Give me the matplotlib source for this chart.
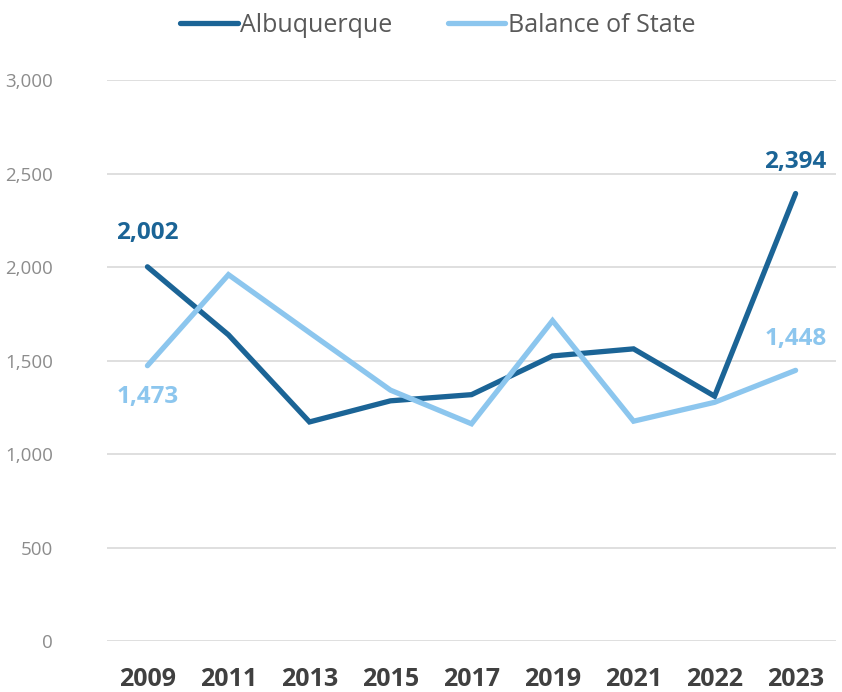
import numpy as np
import matplotlib
matplotlib.use("Agg")
import matplotlib.pyplot as plt

plt.rcParams['font.family'] = ['Open Sans', 'DejaVu Sans']

years = ['2009', '2011', '2013', '2015', '2017', '2019', '2021', '2022', '2023']
albuquerque = [2002, 1638, 1172, 1285, 1318, 1525, 1563, 1310, 2394]
balance_of_state = [1473, 1960, 1650, 1342, 1162, 1714, 1176, 1277, 1448]

dark_blue = '#1B6496'
light_blue = '#8CC6EE'

fig = plt.figure(figsize=(8.42, 6.92), dpi=100)
ax = fig.add_axes([0.127, 0.0737, 0.866, 0.8103])

x = np.arange(len(years))
ax.plot(x, albuquerque, color=dark_blue, linewidth=3.8, label='Albuquerque',
        solid_joinstyle='miter', solid_capstyle='round')
ax.plot(x, balance_of_state, color=light_blue, linewidth=3.8, label='Balance of State',
        solid_joinstyle='miter', solid_capstyle='round')

# end-point labels
lbl = dict(textcoords='offset points', ha='center', fontsize=17.5, fontweight='bold')
ax.annotate(f'{albuquerque[0]:,}', (x[0], albuquerque[0]), xytext=(0, 16),
            va='bottom', color=dark_blue, **lbl)
ax.annotate(f'{balance_of_state[0]:,}', (x[0], balance_of_state[0]), xytext=(0, -14),
            va='top', color=light_blue, **lbl)
ax.annotate(f'{albuquerque[-1]:,}', (x[-1], albuquerque[-1]), xytext=(0, 14),
            va='bottom', color=dark_blue, **lbl)
ax.annotate(f'{balance_of_state[-1]:,}', (x[-1], balance_of_state[-1]), xytext=(0, 14),
            va='bottom', color=light_blue, **lbl)

ax.set_xlim(-0.5, len(years) - 0.5)
ax.set_ylim(0, 3000)
ax.set_yticks(np.arange(0, 3001, 500))
ax.set_yticklabels([f'{v:,}' for v in range(0, 3001, 500)])
ax.set_xticks(x)
ax.set_xticklabels(years, fontweight='bold', fontsize=18, color='#404040')
ax.tick_params(axis='y', labelsize=13.5, colors='#8C8C8C', length=0, pad=39)
ax.tick_params(axis='x', length=0, pad=19)
ax.grid(axis='y', color='#D9D9D9', linewidth=1.2)
ax.set_axisbelow(True)
for s in ax.spines.values():
    s.set_visible(False)

leg = fig.legend(loc='upper center', bbox_to_anchor=(0.52, 1.014), ncol=2, frameon=False,
                 fontsize=18, handlelength=2.3, handletextpad=0.1, columnspacing=2.2)
for t in leg.get_texts():
    t.set_color('#595959')

fig.savefig('out.png', dpi=100)
